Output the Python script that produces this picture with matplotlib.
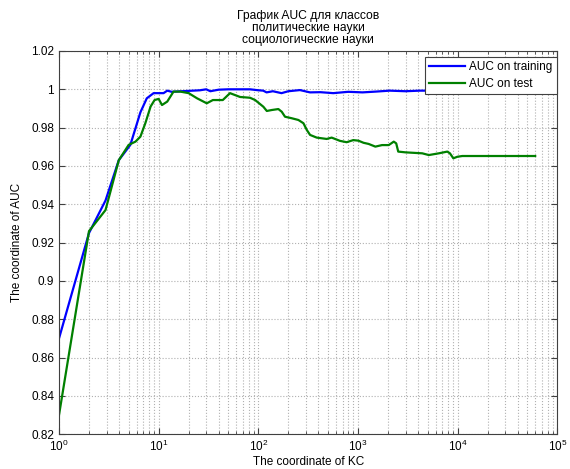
import matplotlib
matplotlib.use("Agg")
import matplotlib.pyplot as plt
import numpy as np

plt.rcParams['font.family'] = ['Liberation Sans', 'DejaVu Sans']
plt.rcParams['mathtext.fontset'] = 'custom'
plt.rcParams['mathtext.rm'] = 'Liberation Sans'

# AUC on training (blue)
train_kc = [1, 2, 2.93, 3.98, 5.2, 6.56, 7.6, 8.9, 11.2, 12.2, 13.5, 17, 22, 26, 30,
            33, 40, 50, 60, 82.6, 100, 112, 121, 140, 171, 200, 262, 330, 420, 565,
            800, 1110, 1500, 2080, 3000, 4150, 6000, 10000, 20000, 60000]
train_auc = [0.870, 0.925, 0.942, 0.963, 0.971, 0.988, 0.9953, 0.998, 0.998, 0.9993,
             0.9987, 0.9990, 0.9993, 0.9995, 1.0, 0.9990, 0.9998, 1.0, 1.0, 1.0,
             0.9995, 0.9993, 0.9984, 0.9990, 0.998, 0.999, 0.9996, 0.9984, 0.9985, 0.998,
             0.9987, 0.9984, 0.9988, 0.9993, 0.9990, 0.9993, 0.9993, 0.9993, 0.9993, 0.9993]

# AUC on test (green)
test_kc = [1, 2, 2.93, 3.98, 5.0, 5.85, 6.56, 7.35, 8.3, 9.1, 10, 10.8, 12.2, 14.1,
           16.5, 20, 24.3, 30.4, 35, 44, 52, 65.6, 82.5, 92.9, 112.4, 121.7, 136.6,
           158.9, 171.8, 185.3, 216.5, 252.4, 283.6, 306.5, 330.7, 385.6, 485.5,
           544.4, 660, 770, 897, 1010, 1137, 1279, 1494, 1744, 2035, 2286, 2419,
           2535, 3004, 4417, 5139, 6478, 7876, 8373, 9056, 9923, 11140, 60000]
test_auc = [0.830, 0.926, 0.937, 0.963, 0.971, 0.9727, 0.9753, 0.9823, 0.991, 0.9944,
            0.995, 0.9918, 0.9936, 0.9988, 0.9988, 0.998, 0.9953, 0.9927, 0.9944, 0.9944,
            0.998, 0.996, 0.9956, 0.9944, 0.9909, 0.9887, 0.9892, 0.9897, 0.9883,
            0.9857, 0.9849, 0.984, 0.9823, 0.9788, 0.9762, 0.9748, 0.9741, 0.9748,
            0.9731, 0.9724, 0.9735, 0.9732, 0.9721, 0.9715, 0.9701, 0.9709, 0.9709,
            0.9727, 0.9718, 0.9675, 0.9671, 0.9666, 0.9657, 0.9666, 0.9675, 0.9666,
            0.964, 0.9648, 0.9652, 0.9652]

y_ticks = [0.82, 0.84, 0.86, 0.88, 0.9, 0.92, 0.94, 0.96, 0.98, 1.0, 1.02]
y_labels = ['0.82', '0.84', '0.86', '0.88', '0.9', '0.92', '0.94', '0.96', '0.98', '1', '1.02']

fs = 8.5

fig = plt.figure(figsize=(5.7, 4.69), dpi=100)
ax = fig.add_axes([0.1035, 0.074, 0.8742, 0.8173])

ax.plot(train_kc, train_auc, color='#0000ff', linewidth=1.6, label='AUC on training')
ax.plot(test_kc, test_auc, color='#008000', linewidth=1.6, label='AUC on test')

ax.set_xscale('log')
ax.set_xlim(1, 1e5)
ax.set_ylim(0.82, 1.02)
ax.set_yticks(y_ticks)
ax.set_yticklabels(y_labels)

ax.grid(True, which='major', linestyle=':', color='#b0b0b0', linewidth=0.8)
ax.grid(True, which='minor', axis='x', linestyle=':', color='#b0b0b0', linewidth=0.8)
ax.tick_params(which='both', direction='in', top=True, right=True, labelsize=fs,
               color='#404040', labelcolor='black')
ax.tick_params(which='major', length=4)
ax.tick_params(which='minor', length=2)
for sp in ax.spines.values():
    sp.set_color('#404040')
    sp.set_linewidth(0.8)

ax.set_title('График AUC для классов\nполитические науки\nсоциологические науки',
             fontsize=8.7, linespacing=1.0, pad=6)
ax.set_xlabel('The coordinate of KC', fontsize=fs, labelpad=1)
ax.set_ylabel('The coordinate of AUC', fontsize=fs, labelpad=6)

leg = ax.legend(loc='upper right', bbox_to_anchor=(0.999, 0.9836), fontsize=fs,
                handlelength=3.0, handletextpad=0.4, borderpad=0.35, labelspacing=0.4,
                fancybox=False, framealpha=1, edgecolor='#404040', borderaxespad=0)
leg.get_frame().set_linewidth(0.8)

fig.savefig('out.png', dpi=100)
